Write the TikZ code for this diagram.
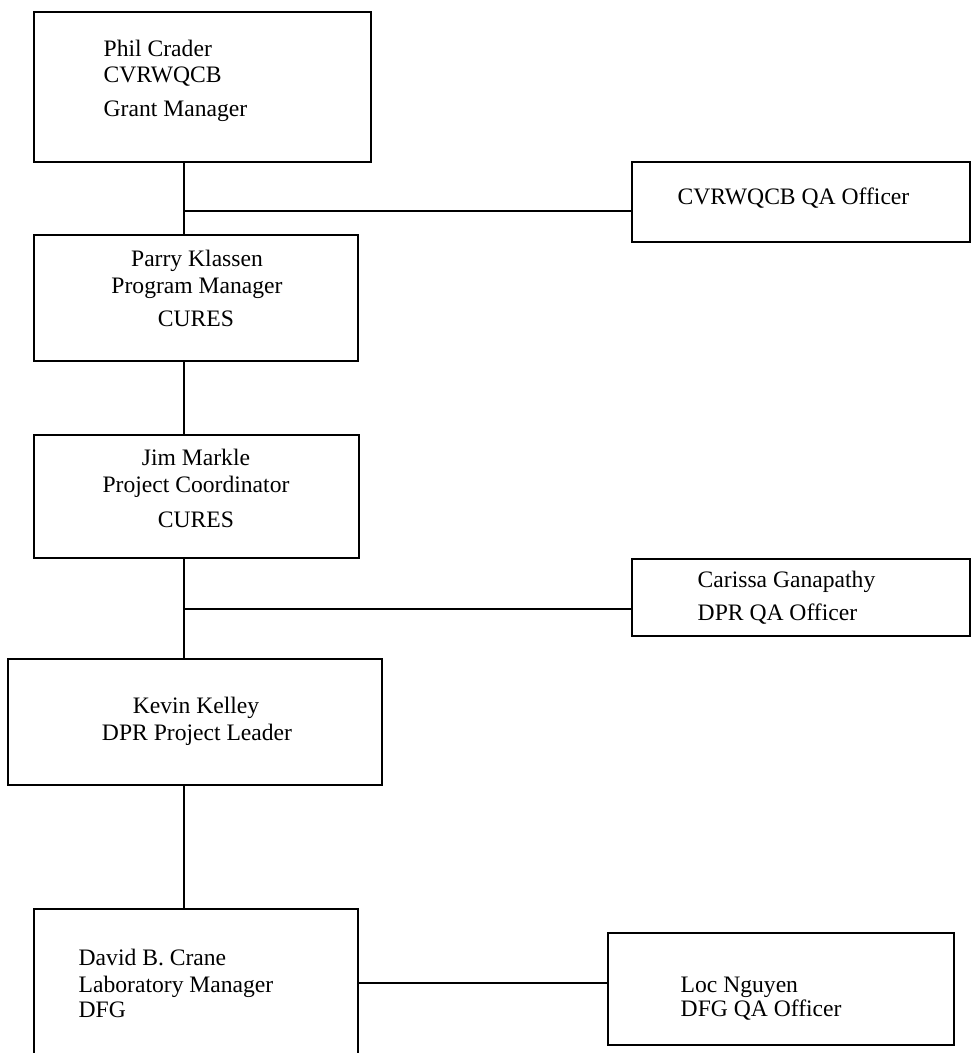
\documentclass[tikz,border=0pt]{standalone}
\usepackage{fontspec}
\setmainfont{Liberation Serif}
\usetikzlibrary{positioning, calc}

\begin{document}
\begin{tikzpicture}[x=0.5pt, y=-0.5pt, line width=0.7pt,
  orgbox/.style={draw, rectangle, anchor=north west, inner sep=0pt, outer sep=0pt},
  lbl/.style={inner sep=0pt, font=\fontsize{11.8}{14}\selectfont}]
  \useasboundingbox (0,0) rectangle (971,1053);

  \node[orgbox, minimum width=168.5pt, minimum height=75pt] (crader) at (34,12) {};
  \node[orgbox, minimum width=169pt, minimum height=40pt] (qacv) at (632,162) {};
  \node[orgbox, minimum width=162pt, minimum height=63pt] (klassen) at (34,235) {};
  \node[orgbox, minimum width=162.5pt, minimum height=61.5pt] (markle) at (34,435) {};
  \node[orgbox, minimum width=169pt, minimum height=38.5pt] (qadpr) at (632,559) {};
  \node[orgbox, minimum width=187pt, minimum height=63pt] (kelley) at (8,659) {};
  \node[orgbox, minimum width=162pt, minimum height=75pt] (crane) at (34,909) {};
  \node[orgbox, minimum width=173pt, minimum height=56pt] (nguyen) at (608,933) {};

  \node[lbl, anchor=base west] (t1) at (103,57) {Phil Crader};
  \node[lbl, anchor=base west] (t2) at (103,83) {CVRWQCB};
  \node[lbl, anchor=base west] (t3) at (103,117) {Grant Manager};
  \node[lbl, anchor=base west] (t4) at (677,205) {CVRWQCB QA Officer};
  \node[lbl, anchor=base] (t5) at (197,267) {Parry Klassen};
  \node[lbl, anchor=base] (t6) at (197,293) {Program Manager};
  \node[lbl, anchor=base] (t7) at (196,327) {CURES};
  \node[lbl, anchor=base] (t8) at (196,465) {Jim Markle};
  \node[lbl, anchor=base] (t9) at (196,492) {Project Coordinator};
  \node[lbl, anchor=base] (t10) at (196,527) {CURES};
  \node[lbl, anchor=base west] (t11) at (697,587) {Carissa Ganapathy};
  \node[lbl, anchor=base west] (t12) at (697,620) {DPR QA Officer};
  \node[lbl, anchor=base] (t13) at (196,713) {Kevin Kelley};
  \node[lbl, anchor=base] (t14) at (197,740) {DPR Project Leader};
  \node[lbl, anchor=base west] (t15) at (78,965) {David B. Crane};
  \node[lbl, anchor=base west] (t16) at (78,992) {Laboratory Manager};
  \node[lbl, anchor=base west] (t17) at (78,1017) {DFG};
  \node[lbl, anchor=base west] (t18) at (680,992) {Loc Nguyen};
  \node[lbl, anchor=base west] (t19) at (680,1016) {DFG QA Officer};

  \coordinate (spine) at (184,0);
  \coordinate (j1) at (184,211);
  \coordinate (j2) at (184,609);
  \coordinate (j3) at (0,983);

  \draw (crader.south -| spine) -- (klassen.north -| spine);
  \draw (klassen.south -| spine) -- (markle.north -| spine);
  \draw (markle.south -| spine) -- (kelley.north -| spine);
  \draw (kelley.south -| spine) -- (crane.north -| spine);
  \draw (j1) -- (j1 -| qacv.west);
  \draw (j2) -- (j2 -| qadpr.west);
  \draw (j3 -| crane.east) -- (j3 -| nguyen.west);
\end{tikzpicture}
\end{document}
